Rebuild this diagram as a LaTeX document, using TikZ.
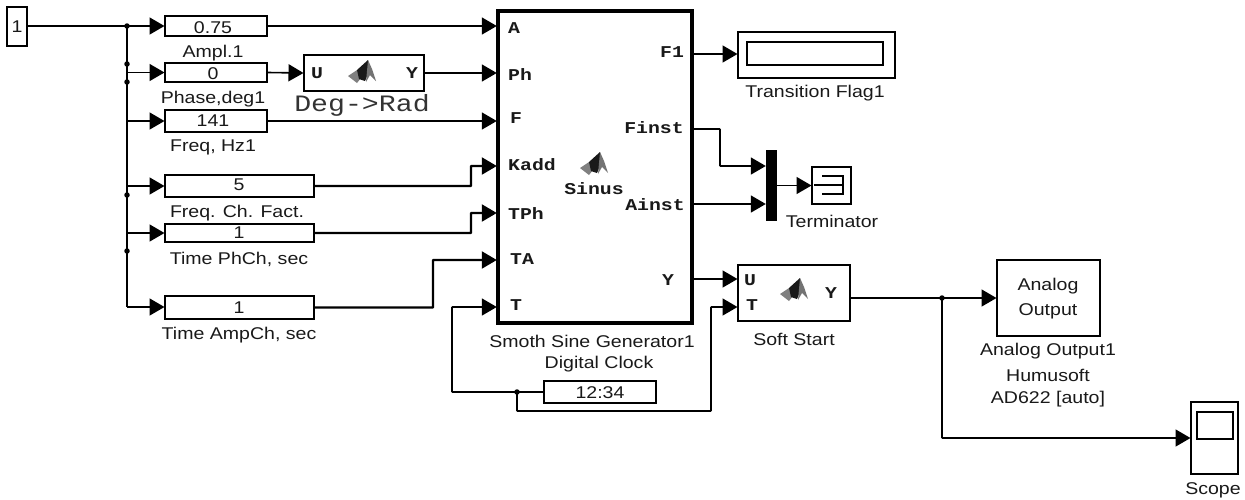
\documentclass[tikz,border=0pt]{standalone}
\usepackage{fontspec}
\setmainfont[FakeStretch=1.15]{Liberation Sans}
\newfontfamily\blockfont[FakeStretch=1.2]{Liberation Mono}
\usetikzlibrary{arrows.meta,calc}
\tikzset{
  x=1pt,y=-1pt,
  wire/.style={line width=1.6pt,-{Triangle[length=15pt,width=17pt]},rounded corners=0.5pt,shorten >=-0.5pt},
  plainw/.style={line width=1.6pt},
  heavyw/.style={line width=2.2pt},
  blk/.style={draw=black,line width=2pt,fill=white,inner sep=0pt,font=\fontsize{17}{17}\selectfont},
  bigblk/.style={blk,line width=3.4pt},
  lab/.style={inner sep=0pt,yshift=-1.2pt,font=\fontsize{17}{17}\selectfont,text=black!90},
  portlab/.style={inner sep=0pt,font=\fontsize{16.5}{16.5}\selectfont\blockfont\bfseries,text=black!90},
  jdot/.style={circle,fill=black,inner sep=0pt,minimum size=5.5pt},
}
\newcommand\blk[6][blk]{\node[#1,minimum width={(#5-#3)*1pt},minimum height={(#6-#4)*1pt}] (#2) at ({(#3+#5)/2},{(#4+#6)/2}) {};}
\newcommand\mwlogo[2]{%
  \begin{scope}[shift={(#1,#2)}]
    \fill[black!50] (0,16) -- (9,10) -- (15,11) -- (13,18) -- (9,23) -- cycle;
    \fill[black!90] (9,10) -- (20,0) -- (20,14) -- (17,21) -- (11,19) -- cycle;
    \fill[black!55] (20,0) -- (24,9) -- (28,21) -- (22,15) -- (18,22) -- cycle;
  \end{scope}}
\begin{document}
\begin{tikzpicture}
\useasboundingbox (0,0) rectangle (1245,499);
% source
\blk{src}{7}{7}{27}{46}
\node[lab] (srct) at (17,25) {1};
% constants
\blk{ampl}{165}{16}{267}{36}   \node[lab] (amplt) at (213,26) {0.75};
\blk{phase}{165}{63}{267}{82}  \node[lab] (phaset) at (213,72) {0};
\blk{freq}{165}{110}{267}{132} \node[lab] (freqt) at (213,119) {141};
\blk{fact}{165}{175}{314}{197} \node[lab] (factt) at (239,184) {5};
\blk{tph}{165}{224}{314}{242}  \node[lab] (tpht) at (239,231) {1};
\blk{tamp}{165}{296}{314}{319} \node[lab] (tampt) at (239,306) {1};
\node[lab] (l1) at (213,52) {Ampl.1};
\node[lab] (l2) at (213,98) {Phase,deg1};
\node[lab] (l3) at (213,146) {Freq, Hz1};
\node[lab] (l4) at (237,212) {Freq. Ch. Fact.};
\node[lab] (l5) at (239,258) {Time PhCh, sec};
\node[lab] (l6) at (239,334) {Time AmpCh, sec};
% Deg->Rad
\blk{deg}{304}{55}{424}{91}
\node[portlab] (degu) at (317,73) {U};
\node[portlab] (degy) at (412,73) {Y};
\mwlogo{348}{60}
\node[inner sep=0pt,font=\fontsize{23.5}{23.5}\selectfont\blockfont,text=black!80] (degl) at (362,105) {Deg->Rad};
% main block
\blk[bigblk]{gen}{498}{11}{692}{323}
\node[portlab] (pa) at (514,28) {A};
\node[portlab] (pph) at (520,75) {Ph};
\node[portlab] (pf) at (516,118) {F};
\node[portlab] (pk) at (532,165) {Kadd};
\node[portlab] (ptp) at (526,214) {TPh};
\node[portlab] (pta) at (522,259) {TA};
\node[portlab] (pt) at (516,305) {T};
\node[portlab] (of) at (672,52) {F1};
\node[portlab] (ofi) at (654,128) {Finst};
\node[portlab] (oai) at (655,205) {Ainst};
\node[portlab] (oy) at (668,280) {Y};
\mwlogo{580}{152}
\node[portlab] (sin) at (594,189) {Sinus};
\node[lab] (genl) at (592,340) {Smoth Sine Generator1};
% clock
\node[lab] (clkl) at (599,363) {Digital Clock};
\blk{clk}{544}{381}{656}{403}
\node[lab] (clkt) at (600,391) {12:34};
% flag display
\blk{flag}{738}{32}{895}{78}
\blk{flagin}{747}{42}{883}{65}
\node[lab] (flagl) at (815,92) {Transition Flag1};
% mux, terminator
\node[fill=black,inner sep=0pt,minimum width=11pt,minimum height=71pt] (mux) at (771,185.5) {};
\blk{term}{812}{167}{851}{204}
\draw[plainw] (822,176) -- (843,176) -- (843,194) -- (822,194) (814,185) -- (843,185);
\node[lab] (terml) at (832,220) {Terminator};
% soft start
\blk{soft}{738}{265}{850}{321}
\node[portlab] (su) at (750,280) {U};
\node[portlab] (st) at (752,305) {T};
\node[portlab] (sy) at (831,293) {Y};
\mwlogo{780}{278}
\node[lab] (softl) at (794,338) {Soft Start};
% analog out
\blk{aout}{997}{260}{1100}{336}
\node[lab] (aoutt) at (1048,285) {Analog};
\node[lab] (aoutu) at (1048,310) {Output};
\node[lab] (ao1) at (1048,350) {Analog Output1};
\node[lab] (ao2) at (1048,374) {Humusoft};
\node[lab] (ao3) at (1048,398) {AD622 [auto]};
% scope
\blk{scope}{1191}{402}{1238}{474}
\blk{screen}{1197}{412}{1233}{439}
\node[lab] (scopel) at (1213,489) {Scope};
% junctions
\coordinate (jtop) at (127,26);
\coordinate (jbot) at (127,307);
\coordinate (jclk) at (517,392);
\coordinate (jout) at (942,298);
% wires from source
\draw[plainw] (src.east |- jtop) -- (jtop);
\draw[plainw] (jtop) -- (jbot);
\draw[wire] (jtop) -- (ampl.west |- jtop);
\draw[wire] (jtop |- phase.west) -- (phase.west);
\draw[wire] (jtop |- freq.west) -- (freq.west);
\draw[wire] (jtop |- fact.west) -- (fact.west);
\draw[wire] (jtop |- tph.west) -- (tph.west);
\draw[wire] (jbot) -- (tamp.west |- jbot);
\foreach \n/\yy in {a/26,b/64,c/82,d/195,e/251} \node[jdot] (dot\n) at (127,\yy) {};
% wires to generator
\draw[wire] (ampl.east) -- (gen.west |- ampl.east);
\draw[wire] (phase.east) -- (deg.west);
\draw[wire] (deg.east) -- (gen.west |- deg.east);
\draw[wire] (freq.east) -- (gen.west |- freq.east);
\draw[wire,heavyw] (fact.east) -- (471,186) -- (471,166) -- (gen.west |- 0,166);
\draw[wire,heavyw] (tph.east) -- (471,233) -- (471,213) -- (gen.west |- 0,213);
\draw[wire,heavyw] (tamp.east) -- (433,307.5) -- (433,260) -- (gen.west |- 0,260);
% clock
\draw[wire] (clk.west) -- (452,392) -- (452,307) -- (gen.west |- 0,307);
\draw[wire] (jclk) -- (517,411) -- (711,411) -- (711,307) -- (soft.west |- 0,307);
\node[jdot] (jcd) at (jclk) {};
% outputs
\draw[wire] (gen.east |- 0,54) -- (flag.west |- 0,54);
\draw[wire] (gen.east |- 0,129) -- (720,129) -- (720,166) -- (mux.west |- 0,166);
\draw[wire] (gen.east |- 0,204) -- (mux.west |- 0,204);
\draw[wire] (mux.east |- term.west) -- (term.west);
\draw[wire] (gen.east |- 0,279) -- (soft.west |- 0,279);
\draw[plainw] (soft.east |- jout) -- (jout);
\draw[wire] (jout) -- (aout.west |- jout);
\draw[wire] (jout) -- (942,438) -- (scope.west |- 0,438);
\node[jdot] (jod) at (jout) {};
\end{tikzpicture}
\end{document}
